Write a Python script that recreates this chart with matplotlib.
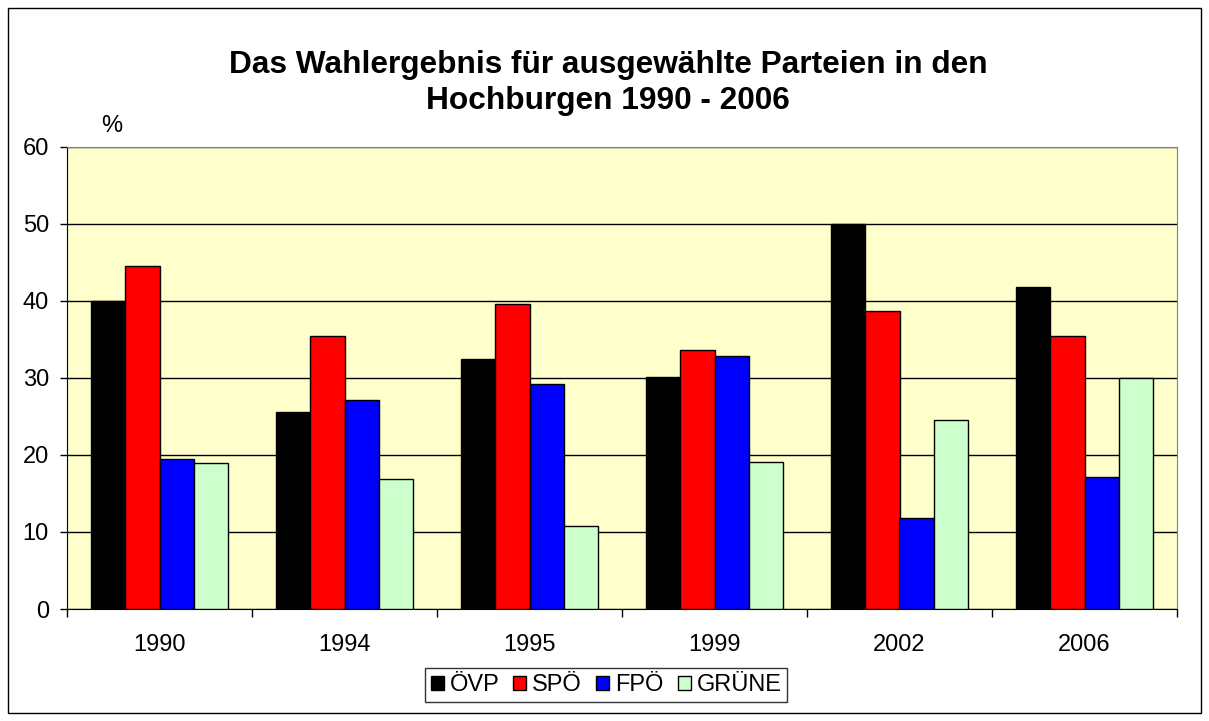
import matplotlib
matplotlib.use("Agg")
import matplotlib.pyplot as plt
import numpy as np
from matplotlib.patches import Rectangle

plt.rcParams['font.family'] = ['Liberation Sans', 'DejaVu Sans']

years = ["1990", "1994", "1995", "1999", "2002", "2006"]
parties = ["ÖVP", "SPÖ", "FPÖ", "GRÜNE"]
oevp = [40.0, 25.6, 32.5, 30.1, 50.0, 41.8]
spoe = [44.5, 35.4, 39.6, 33.6, 38.7, 35.5]
fpoe = [19.5, 27.1, 29.2, 32.8, 11.8, 17.1]
gruene = [19.0, 16.9, 10.8, 19.1, 24.6, 30.0]
series = [oevp, spoe, fpoe, gruene]
colors = ["#000000", "#FF0000", "#0000FF", "#CCFFCC"]

W, H = 1209, 721
fig = plt.figure(figsize=(W / 100, H / 100), dpi=100)
fig.patch.set_facecolor("white")
fig.add_artist(Rectangle((8 / W, 8 / H), 1193 / W, 705 / H, transform=fig.transFigure,
                         fill=False, edgecolor="black", linewidth=1))

ax = fig.add_axes([67 / W, 1 - 609 / H, 1110 / W, 462 / H])
ax.set_facecolor("#FFFFCC")

x = np.arange(len(years))
bw = 0.184
for i, (vals, c) in enumerate(zip(series, colors)):
    ax.bar(x + (i - 1.5) * bw, vals, width=bw, color=c, edgecolor="black",
           linewidth=1, label=parties[i], zorder=3)

ax.set_xlim(-0.5, len(years) - 0.5)
ax.set_ylim(0, 60)
ax.set_yticks(range(0, 61, 10))
ax.yaxis.grid(True, color="black", linewidth=1, zorder=1)
ax.set_axisbelow(True)
ax.set_xticks(x)
ax.set_xticklabels(years, fontsize=17)
ax.tick_params(axis="x", length=0, pad=18)
ax.set_xticks(np.arange(-0.5, len(years), 1), minor=True)
ax.tick_params(axis="x", which="minor", length=6, width=1, direction="out")
ax.tick_params(axis="y", labelsize=17, length=5, width=1, direction="out", pad=8)
for s in ["top", "right"]:
    ax.spines[s].set_visible(True)
    ax.spines[s].set_color("#808080")
ax.spines["left"].set_color("black")
ax.spines["bottom"].set_color("black")

fig.text(608 / W, 1 - 73.5 / H, "Das Wahlergebnis für ausgewählte Parteien in den",
         ha="center", va="baseline", fontsize=22.8, fontweight="bold")
fig.text(608 / W, 1 - 109 / H, "Hochburgen 1990 - 2006",
         ha="center", va="baseline", fontsize=22.8, fontweight="bold")
fig.text(112 / W, 1 - 132 / H, "%", ha="center", va="baseline", fontsize=17)

leg = fig.legend(loc="center", bbox_to_anchor=(606 / W, 1 - 685 / H), ncol=4,
                 fontsize=17, frameon=True, fancybox=False, edgecolor="black",
                 handlelength=0.55, handleheight=0.55, handletextpad=0.25,
                 columnspacing=0.6, borderpad=0.25, borderaxespad=0)
leg.get_frame().set_linewidth(1)

fig.savefig("out.png", dpi=100)
